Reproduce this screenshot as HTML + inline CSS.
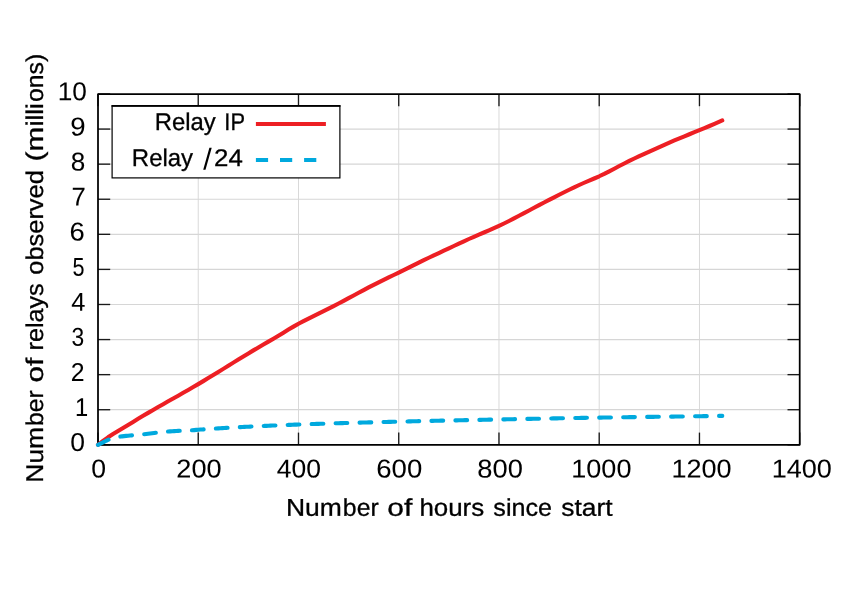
<!DOCTYPE html><html><head><meta charset="utf-8"><style>html,body{margin:0;padding:0;background:#fff}svg{display:block;will-change:transform}text{font-family:"Liberation Sans",sans-serif;fill:#000;stroke:#000;stroke-width:0.30px}</style></head><body>
<svg width="846" height="594" viewBox="0 0 846 594">
<rect width="846" height="594" fill="#fff"/>
<g stroke="#d9d9d9" stroke-width="1.0"><line x1="198.24" y1="94.00" x2="198.24" y2="444.80"/><line x1="298.49" y1="94.00" x2="298.49" y2="444.80"/><line x1="398.73" y1="94.00" x2="398.73" y2="444.80"/><line x1="498.97" y1="94.00" x2="498.97" y2="444.80"/><line x1="599.21" y1="94.00" x2="599.21" y2="444.80"/><line x1="699.46" y1="94.00" x2="699.46" y2="444.80"/></g>
<g stroke="#d6d6d6" stroke-width="1.2"><line x1="98.00" y1="409.72" x2="799.70" y2="409.72"/><line x1="98.00" y1="374.64" x2="799.70" y2="374.64"/><line x1="98.00" y1="339.56" x2="799.70" y2="339.56"/><line x1="98.00" y1="304.48" x2="799.70" y2="304.48"/><line x1="98.00" y1="269.40" x2="799.70" y2="269.40"/><line x1="98.00" y1="234.32" x2="799.70" y2="234.32"/><line x1="98.00" y1="199.24" x2="799.70" y2="199.24"/><line x1="98.00" y1="164.16" x2="799.70" y2="164.16"/><line x1="98.00" y1="129.08" x2="799.70" y2="129.08"/></g>
<g stroke="#1a1a1a" stroke-width="1.35"><line x1="98.00" y1="444.80" x2="98.00" y2="432.60"/><line x1="98.00" y1="94.00" x2="98.00" y2="106.20"/><line x1="198.24" y1="444.80" x2="198.24" y2="432.60"/><line x1="198.24" y1="94.00" x2="198.24" y2="106.20"/><line x1="298.49" y1="444.80" x2="298.49" y2="432.60"/><line x1="298.49" y1="94.00" x2="298.49" y2="106.20"/><line x1="398.73" y1="444.80" x2="398.73" y2="432.60"/><line x1="398.73" y1="94.00" x2="398.73" y2="106.20"/><line x1="498.97" y1="444.80" x2="498.97" y2="432.60"/><line x1="498.97" y1="94.00" x2="498.97" y2="106.20"/><line x1="599.21" y1="444.80" x2="599.21" y2="432.60"/><line x1="599.21" y1="94.00" x2="599.21" y2="106.20"/><line x1="699.46" y1="444.80" x2="699.46" y2="432.60"/><line x1="699.46" y1="94.00" x2="699.46" y2="106.20"/><line x1="799.70" y1="444.80" x2="799.70" y2="432.60"/><line x1="799.70" y1="94.00" x2="799.70" y2="106.20"/><line x1="98.00" y1="444.80" x2="110.20" y2="444.80"/><line x1="799.70" y1="444.80" x2="787.50" y2="444.80"/><line x1="98.00" y1="409.72" x2="110.20" y2="409.72"/><line x1="799.70" y1="409.72" x2="787.50" y2="409.72"/><line x1="98.00" y1="374.64" x2="110.20" y2="374.64"/><line x1="799.70" y1="374.64" x2="787.50" y2="374.64"/><line x1="98.00" y1="339.56" x2="110.20" y2="339.56"/><line x1="799.70" y1="339.56" x2="787.50" y2="339.56"/><line x1="98.00" y1="304.48" x2="110.20" y2="304.48"/><line x1="799.70" y1="304.48" x2="787.50" y2="304.48"/><line x1="98.00" y1="269.40" x2="110.20" y2="269.40"/><line x1="799.70" y1="269.40" x2="787.50" y2="269.40"/><line x1="98.00" y1="234.32" x2="110.20" y2="234.32"/><line x1="799.70" y1="234.32" x2="787.50" y2="234.32"/><line x1="98.00" y1="199.24" x2="110.20" y2="199.24"/><line x1="799.70" y1="199.24" x2="787.50" y2="199.24"/><line x1="98.00" y1="164.16" x2="110.20" y2="164.16"/><line x1="799.70" y1="164.16" x2="787.50" y2="164.16"/><line x1="98.00" y1="129.08" x2="110.20" y2="129.08"/><line x1="799.70" y1="129.08" x2="787.50" y2="129.08"/><line x1="98.00" y1="94.00" x2="110.20" y2="94.00"/><line x1="799.70" y1="94.00" x2="787.50" y2="94.00"/></g>
<rect x="98.00" y="94.00" width="701.70" height="350.80" fill="none" stroke="#000" stroke-width="1.75" stroke-linejoin="round"/>
<path d="M98.00,444.80 L103.01,440.87 L108.02,437.32 L113.04,434.06 L118.05,430.97 L123.06,427.96 L128.07,424.94 L133.09,421.91 L138.10,418.87 L143.11,415.86 L148.12,412.88 L153.13,409.94 L158.15,407.05 L163.16,404.18 L168.17,401.33 L173.18,398.49 L178.19,395.66 L183.21,392.81 L188.22,389.94 L193.23,387.05 L198.24,384.11 L203.25,381.13 L208.27,378.11 L213.28,375.06 L218.29,371.97 L223.30,368.87 L228.32,365.75 L233.33,362.63 L238.34,359.51 L243.35,356.43 L248.36,353.38 L253.38,350.38 L258.39,347.44 L263.40,344.54 L268.41,341.64 L273.43,338.70 L278.44,335.69 L283.45,332.63 L288.46,329.59 L293.47,326.62 L298.49,323.77 L303.50,321.10 L308.51,318.56 L313.52,316.08 L318.53,313.62 L323.55,311.15 L328.56,308.63 L333.57,306.07 L338.58,303.47 L343.60,300.83 L348.61,298.17 L353.62,295.47 L358.63,292.77 L363.64,290.08 L368.66,287.43 L373.67,284.84 L378.68,282.31 L383.69,279.85 L388.70,277.42 L393.72,274.99 L398.73,272.56 L403.74,270.09 L408.75,267.60 L413.76,265.10 L418.78,262.62 L423.79,260.17 L428.80,257.77 L433.81,255.39 L438.83,253.04 L443.84,250.70 L448.85,248.35 L453.86,245.99 L458.87,243.64 L463.89,241.30 L468.90,239.01 L473.91,236.78 L478.92,234.61 L483.94,232.49 L488.95,230.36 L493.96,228.18 L498.97,225.90 L503.98,223.50 L509.00,220.99 L514.01,218.39 L519.02,215.75 L524.03,213.10 L529.04,210.44 L534.06,207.80 L539.07,205.17 L544.08,202.55 L549.09,199.94 L554.11,197.34 L559.12,194.76 L564.13,192.22 L569.14,189.74 L574.15,187.32 L579.17,184.99 L584.18,182.75 L589.19,180.61 L594.20,178.49 L599.21,176.26 L604.23,173.86 L609.24,171.32 L614.25,168.70 L619.26,166.06 L624.27,163.46 L629.29,160.94 L634.30,158.51 L639.31,156.15 L644.32,153.84 L649.34,151.56 L654.35,149.30 L659.36,147.05 L664.37,144.83 L669.38,142.64 L674.40,140.48 L679.41,138.37 L684.42,136.29 L689.43,134.23 L694.45,132.18 L699.46,130.13 L704.47,128.07 L709.48,125.99 L714.49,123.87 L719.51,121.70 L722.26,120.49" fill="none" stroke="#ed1f24" stroke-width="4.1" stroke-linecap="round" stroke-linejoin="round"/>
<path d="M98.00,444.80 L100.00,443.81 L102.01,442.83 L104.01,441.82 L106.02,440.76 L108.02,439.86 L110.03,439.16 L112.03,438.52 L114.04,437.94 L116.04,437.43 L118.05,436.99 L120.05,436.63 L122.06,436.34 L124.06,436.10 L126.07,435.90 L128.07,435.71 L130.08,435.52 L132.08,435.33 L134.09,435.14 L136.09,434.97 L138.10,434.79 L140.10,434.62 L142.11,434.43 L144.11,434.22 L146.12,433.99 L148.12,433.73 L150.13,433.46 L152.13,433.19 L154.14,432.93 L156.14,432.70 L158.15,432.48 L160.15,432.26 L162.16,432.05 L164.16,431.86 L166.17,431.68 L168.17,431.52 L170.17,431.37 L172.18,431.23 L174.18,431.10 L176.19,430.98 L178.19,430.87 L180.20,430.77 L182.20,430.68 L184.21,430.61 L186.21,430.54 L188.22,430.47 L190.22,430.38 L192.23,430.27 L194.23,430.09 L196.24,429.89 L198.24,429.72 L200.25,429.57 L202.25,429.43 L204.26,429.30 L206.26,429.16 L208.27,429.03 L210.27,428.89 L212.28,428.76 L214.28,428.63 L216.29,428.51 L218.29,428.38 L220.30,428.26 L222.30,428.14 L224.31,428.02 L226.31,427.90 L228.32,427.78 L230.32,427.66 L232.33,427.55 L234.33,427.44 L236.34,427.33 L238.34,427.22 L240.34,427.11 L242.35,427.00 L244.35,426.90 L246.36,426.79 L248.36,426.69 L250.37,426.59 L252.37,426.49 L254.38,426.39 L256.38,426.30 L258.39,426.20 L260.39,426.11 L262.40,426.01 L264.40,425.92 L266.41,425.83 L268.41,425.74 L270.42,425.65 L272.42,425.56 L274.43,425.48 L276.43,425.39 L278.44,425.31 L280.44,425.23 L282.45,425.14 L284.45,425.06 L286.46,424.98 L288.46,424.90 L290.47,424.83 L292.47,424.75 L294.48,424.67 L296.48,424.60 L298.49,424.52 L300.49,424.45 L302.50,424.38 L304.50,424.31 L306.51,424.24 L308.51,424.17 L310.51,424.10 L312.52,424.03 L314.52,423.96 L316.53,423.90 L318.53,423.83 L320.54,423.77 L322.54,423.70 L324.55,423.64 L326.55,423.58 L328.56,423.51 L330.56,423.45 L332.57,423.39 L334.57,423.33 L336.58,423.27 L338.58,423.22 L340.59,423.16 L342.59,423.10 L344.60,423.04 L346.60,422.99 L348.61,422.93 L350.61,422.88 L352.62,422.82 L354.62,422.77 L356.63,422.71 L358.63,422.66 L360.64,422.61 L362.64,422.56 L364.65,422.50 L366.65,422.45 L368.66,422.40 L370.66,422.35 L372.67,422.30 L374.67,422.25 L376.68,422.20 L378.68,422.14 L380.68,422.09 L382.69,422.04 L384.69,421.99 L386.70,421.94 L388.70,421.90 L390.71,421.85 L392.71,421.80 L394.72,421.75 L396.72,421.70 L398.73,421.65 L400.73,421.60 L402.74,421.55 L404.74,421.50 L406.75,421.45 L408.75,421.40 L410.76,421.36 L412.76,421.31 L414.77,421.26 L416.77,421.21 L418.78,421.17 L420.78,421.12 L422.79,421.08 L424.79,421.03 L426.80,420.98 L428.80,420.94 L430.81,420.89 L432.81,420.85 L434.82,420.81 L436.82,420.76 L438.83,420.72 L440.83,420.67 L442.84,420.63 L444.84,420.59 L446.85,420.54 L448.85,420.50 L450.85,420.46 L452.86,420.42 L454.86,420.37 L456.87,420.33 L458.87,420.29 L460.88,420.25 L462.88,420.21 L464.89,420.16 L466.89,420.12 L468.90,420.08 L470.90,420.04 L472.91,420.00 L474.91,419.96 L476.92,419.92 L478.92,419.88 L480.93,419.84 L482.93,419.79 L484.94,419.75 L486.94,419.71 L488.95,419.67 L490.95,419.63 L492.96,419.59 L494.96,419.55 L496.97,419.51 L498.97,419.47 L500.98,419.43 L502.98,419.39 L504.99,419.35 L506.99,419.31 L509.00,419.27 L511.00,419.23 L513.01,419.19 L515.01,419.15 L517.02,419.11 L519.02,419.07 L521.02,419.03 L523.03,418.99 L525.03,418.96 L527.04,418.92 L529.04,418.88 L531.05,418.84 L533.05,418.80 L535.06,418.76 L537.06,418.72 L539.07,418.68 L541.07,418.64 L543.08,418.61 L545.08,418.57 L547.09,418.53 L549.09,418.49 L551.10,418.45 L553.10,418.42 L555.11,418.38 L557.11,418.34 L559.12,418.31 L561.12,418.27 L563.13,418.23 L565.13,418.20 L567.14,418.16 L569.14,418.12 L571.15,418.09 L573.15,418.05 L575.16,418.02 L577.16,417.98 L579.17,417.95 L581.17,417.91 L583.18,417.88 L585.18,417.84 L587.19,417.81 L589.19,417.78 L591.19,417.74 L593.20,417.71 L595.20,417.68 L597.21,417.65 L599.21,417.61 L601.22,417.58 L603.22,417.55 L605.23,417.52 L607.23,417.49 L609.24,417.46 L611.24,417.43 L613.25,417.40 L615.25,417.37 L617.26,417.34 L619.26,417.31 L621.27,417.28 L623.27,417.25 L625.28,417.22 L627.28,417.20 L629.29,417.17 L631.29,417.14 L633.30,417.11 L635.30,417.09 L637.31,417.06 L639.31,417.03 L641.32,417.00 L643.32,416.98 L645.33,416.95 L647.33,416.92 L649.34,416.90 L651.34,416.87 L653.35,416.84 L655.35,416.82 L657.36,416.79 L659.36,416.76 L661.36,416.74 L663.37,416.71 L665.37,416.68 L667.38,416.66 L669.38,416.63 L671.39,416.60 L673.39,416.58 L675.40,416.55 L677.40,416.52 L679.41,416.49 L681.41,416.47 L683.42,416.44 L685.42,416.41 L687.43,416.38 L689.43,416.35 L691.44,416.33 L693.44,416.30 L695.45,416.27 L697.45,416.24 L699.46,416.21 L701.46,416.18 L703.47,416.15 L705.47,416.12 L707.48,416.09 L709.48,416.06 L711.49,416.03 L713.49,416.00 L715.50,415.96 L717.50,415.93 L719.51,415.90 L721.51,415.87 L722.26,415.86" fill="none" stroke="#00a9de" stroke-width="4.1" stroke-linecap="round" stroke-linejoin="round" stroke-dasharray="11.7 12.27"/>
<rect x="112.1" y="105.95" width="227.8" height="71.95" fill="#fff" stroke="#000" stroke-width="1.2"/>
<line x1="111.5" y1="105.95" x2="340.5" y2="105.95" stroke="#000" stroke-width="1.7"/>
<line x1="255.9" y1="124" x2="325.9" y2="124" stroke="#ed1f24" stroke-width="4"/>
<line x1="255.9" y1="160" x2="325.9" y2="160" stroke="#00a9de" stroke-width="4" stroke-dasharray="12.2 11.9"/>
<text transform="translate(154.68,130.00) rotate(0.05) scale(0.9861,1)" font-size="24.20">Relay</text>
<text transform="translate(224.33,130.00) rotate(0.05) scale(0.9039,1)" font-size="24.20">IP</text>
<text transform="translate(131.87,166.00) rotate(0.05) scale(0.9894,1)" font-size="24.20">Relay</text>
<polygon points="203.2,169.7 205.5,169.7 211.7,147.7 209.4,147.7" fill="#000"/>
<text transform="translate(214.06,166.00) rotate(0.05) scale(1.0686,1)" font-size="24.20">24</text>
<text transform="translate(91.13,477.45) rotate(0.05) scale(1.0256,1)" font-size="25.90" style="stroke-width:0.05px">0</text>
<text transform="translate(176.37,477.45) rotate(0.05) scale(1.0471,1)" font-size="25.90" style="stroke-width:0.05px">200</text>
<text transform="translate(276.73,477.45) rotate(0.05) scale(1.0220,1)" font-size="25.90" style="stroke-width:0.05px">400</text>
<text transform="translate(376.25,477.45) rotate(0.05) scale(1.0642,1)" font-size="25.90" style="stroke-width:0.05px">600</text>
<text transform="translate(477.37,477.45) rotate(0.05) scale(1.0519,1)" font-size="25.90" style="stroke-width:0.05px">800</text>
<text transform="translate(571.30,477.45) rotate(0.05) scale(1.0439,1)" font-size="25.90" style="stroke-width:0.05px">1000</text>
<text transform="translate(671.50,477.45) rotate(0.05) scale(1.0439,1)" font-size="25.90" style="stroke-width:0.05px">1200</text>
<text transform="translate(771.70,477.45) rotate(0.05) scale(1.0439,1)" font-size="25.90" style="stroke-width:0.05px">1400</text>
<text transform="translate(57.66,100.30) rotate(0.05) scale(1.0122,1)" font-size="25.90" style="stroke-width:0.05px">10</text>
<text transform="translate(70.22,135.38) rotate(0.05) scale(1.0644,1)" font-size="25.90" style="stroke-width:0.05px">9</text>
<text transform="translate(70.82,170.46) rotate(0.05) scale(1.0063,1)" font-size="25.90" style="stroke-width:0.05px">8</text>
<text transform="translate(71.44,205.54) rotate(0.05) scale(0.9916,1)" font-size="25.90" style="stroke-width:0.05px">7</text>
<text transform="translate(69.56,240.62) rotate(0.05) scale(1.0560,1)" font-size="25.90" style="stroke-width:0.05px">6</text>
<text transform="translate(72.46,275.70) rotate(0.05) scale(0.8332,1)" font-size="25.90" style="stroke-width:0.05px">5</text>
<text transform="translate(71.35,310.78) rotate(0.05) scale(0.9825,1)" font-size="25.90" style="stroke-width:0.05px">4</text>
<text transform="translate(71.57,345.86) rotate(0.05) scale(0.8819,1)" font-size="25.90" style="stroke-width:0.05px">3</text>
<text transform="translate(70.68,380.94) rotate(0.05) scale(0.9579,1)" font-size="25.90" style="stroke-width:0.05px">2</text>
<text transform="translate(75.05,416.02) rotate(0.05) scale(0.9150,1)" font-size="25.90" style="stroke-width:0.05px">1</text>
<text transform="translate(70.18,451.10) rotate(0.05) scale(1.0216,1)" font-size="25.90" style="stroke-width:0.05px">0</text>
<text transform="translate(285.96,515.80) rotate(0.05) scale(1.0949,1)" font-size="24.20">Num</text>
<text transform="translate(342.84,515.80) rotate(0.05) scale(1.0262,1)" font-size="24.20">ber</text>
<text transform="translate(387.37,515.80) rotate(0.05) scale(1.2410,1)" font-size="24.20">of</text>
<text transform="translate(419.40,515.80) rotate(0.05) scale(1.0709,1)" font-size="24.20">hours</text>
<text transform="translate(493.36,515.80) rotate(0.05) scale(1.0374,1)" font-size="24.20">since</text>
<text transform="translate(561.32,515.80) rotate(0.05) scale(1.0904,1)" font-size="24.20">start</text>
<text transform="translate(43.00,482.63) rotate(-89.95) scale(1.0907,1)" font-size="24.20">Num</text>
<text transform="translate(43.00,425.95) rotate(-89.95) scale(1.0202,1)" font-size="24.20">ber</text>
<text transform="translate(43.00,382.51) rotate(-89.95) scale(1.2253,1)" font-size="24.20">of</text>
<text transform="translate(43.00,350.49) rotate(-89.95) scale(1.0413,1)" font-size="24.20">relays</text>
<text transform="translate(43.00,274.73) rotate(-89.95) scale(1.0507,1)" font-size="24.20">observed</text>
<text transform="translate(43.00,161.52) rotate(-89.95) scale(1.2347,1)" font-size="24.20">(m</text>
<text transform="translate(43.00,126.30) rotate(-89.95) scale(1.0727,1)" font-size="24.20">illi</text>
<text transform="translate(43.00,102.00) rotate(-89.95) scale(1.0249,1)" font-size="24.20">ons)</text>
</svg></body></html>
